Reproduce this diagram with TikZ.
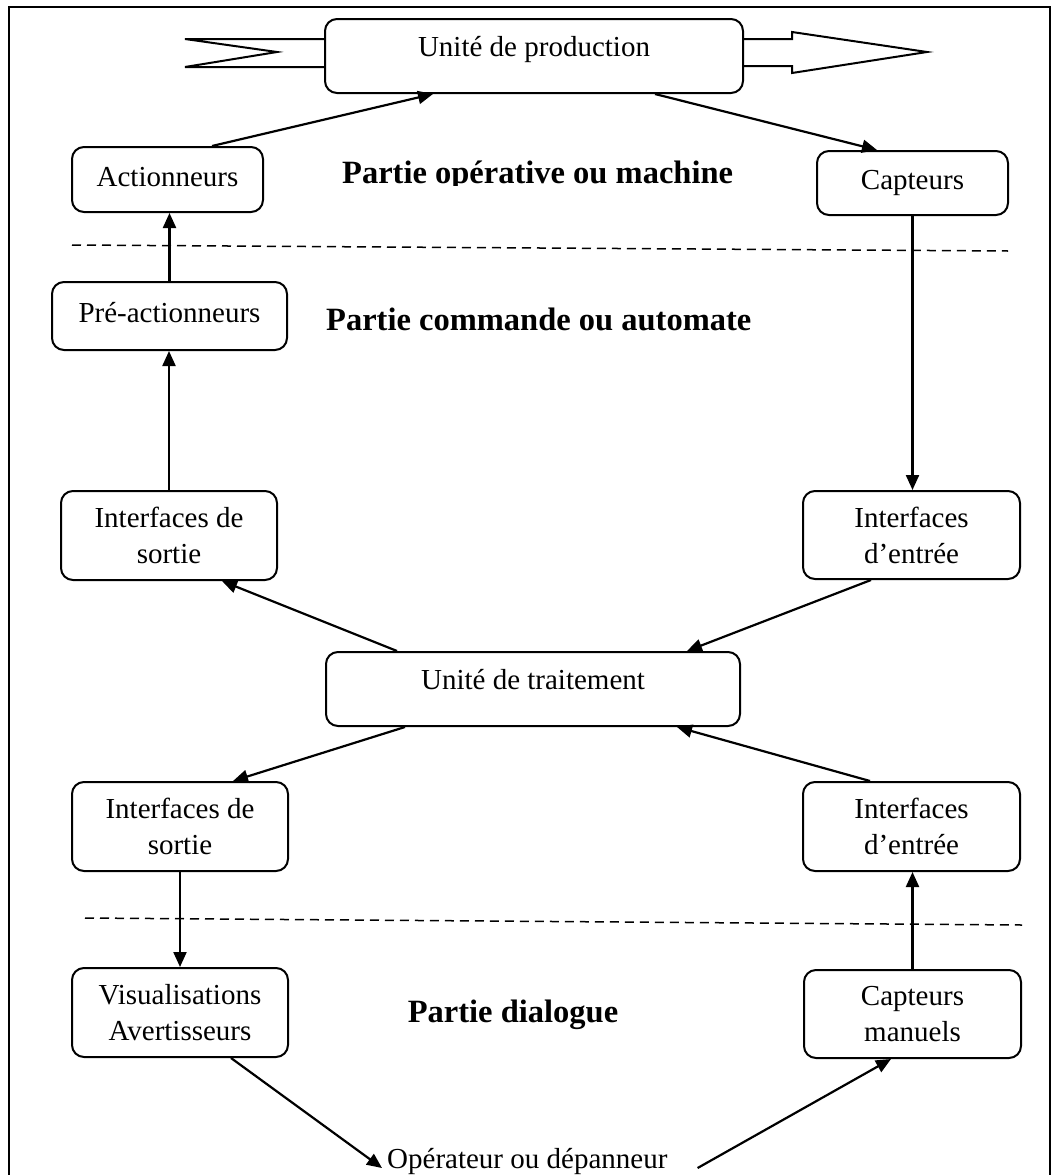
\documentclass[tikz,border=0pt]{standalone}
\usepackage{fontspec}
\setmainfont{Liberation Serif}
\usetikzlibrary{arrows.meta}

\begin{document}
\begin{tikzpicture}[x=1pt,y=-1pt,
    boite/.style={draw,line width=2pt,rounded corners=12pt,inner sep=0pt,align=center,
      font=\fontsize{29}{36}\selectfont},
    ligne/.style={text height=20pt,text depth=7pt},
    large/.style={text height=37pt,text depth=37pt},
    fleche/.style={line width=2.2pt,-{Triangle[length=15pt,width=13pt]}},
    titre/.style={font=\fontsize{32.5}{38}\selectfont\bfseries,inner sep=0pt},
    tirets/.style={line width=1.5pt,dash pattern=on 9pt off 6pt}]
      \useasboundingbox (0,0) rectangle (1059,1175);
      \clip (0,0) rectangle (1059,1175);
      \draw[line width=2.2pt] (9,7) rectangle (1050,1200);

      % partie operative
      \node[boite,large,minimum width=418,minimum height=74] (prod) at (534,56) {Unité de production};
      \draw[line width=2pt] (325,39) -- (185,39) -- (277,52) -- (185,67) -- (325,67);
      \draw[line width=2pt] (743,39) -- (792,39) -- (792,32) -- (927,52) -- (792,73) -- (792,66) -- (743,66);
      \node[boite,ligne,minimum width=191,minimum height=65] (act) at (167.5,179.5) {Actionneurs};
      \node[boite,ligne,minimum width=191,minimum height=64] (cap) at (912.5,183) {Capteurs};
      \begin{scope}
        \clip (0,0) rectangle (1059,185);
        \node[titre,anchor=base west] (partop) at (342,183) {Partie opérative ou machine};
      \end{scope}
      \draw[tirets] (72,245) -- (1008,251);

      % partie commande
      \node[boite,ligne,minimum width=235,minimum height=68] (pre) at (169.5,316) {Pré-actionneurs};
      \node[titre,anchor=base west] (partcom) at (326,330) {Partie commande ou automate};
      \node[boite,minimum width=216,minimum height=89] (sort1) at (169,535.5) {Interfaces de\\sortie};
      \node[boite,minimum width=217,minimum height=88] (ent1) at (911.5,535) {Interfaces\\d’entrée};
      \node[boite,large,minimum width=414,minimum height=74] (trait) at (533,689) {Unité de traitement};
      \node[boite,minimum width=216,minimum height=89] (sort2) at (180,826.5) {Interfaces de\\sortie};
      \node[boite,minimum width=217,minimum height=89] (ent2) at (911.5,826.5) {Interfaces\\d’entrée};
      \draw[tirets] (85,918) -- (1022,925);

      % partie dialogue
      \node[boite,minimum width=216,minimum height=89] (visu) at (180,1012.5) {Visualisations\\Avertisseurs};
      \node[boite,minimum width=217,minimum height=88] (capm) at (912.5,1014) {Capteurs\\manuels};
      \node[titre,anchor=base] (partdia) at (513,1022) {Partie dialogue};
      \node[font=\fontsize{29}{36}\selectfont,inner sep=0pt,anchor=base west] (oper) at (387,1168) {Opérateur ou dépanneur};

      \draw[fleche] ([xshift=44.5]act.north) -- ([xshift=-101]prod.south);
      \draw[fleche] ([xshift=121]prod.south) -- ([xshift=-35.5]cap.north);
      \draw[fleche] (pre.north) -- (act.south -| pre.north);
      \draw[fleche] (cap.south) -- (ent1.north -| cap.south);
      \draw[fleche] (sort1.north) -- (pre.south -| sort1.north);
      \draw[fleche] ([xshift=-136]trait.north) -- ([xshift=53]sort1.south);
      \draw[fleche] ([xshift=-40.5]ent1.south) -- ([xshift=154]trait.north);
      \draw[fleche] ([xshift=-128]trait.south) -- ([xshift=53]sort2.north);
      \draw[fleche] ([xshift=-41.5]ent2.north) -- ([xshift=144]trait.south);
      \draw[fleche] (sort2.south) -- (visu.north);
      \draw[fleche] (capm.north) -- (ent2.south -| capm.north);
      \draw[fleche] ([xshift=51]visu.south) -- ([xshift=-5]oper.base west);
      \draw[fleche] ([xshift=30]oper.base east) -- ([xshift=-21.5]capm.south);
\end{tikzpicture}
\end{document}
